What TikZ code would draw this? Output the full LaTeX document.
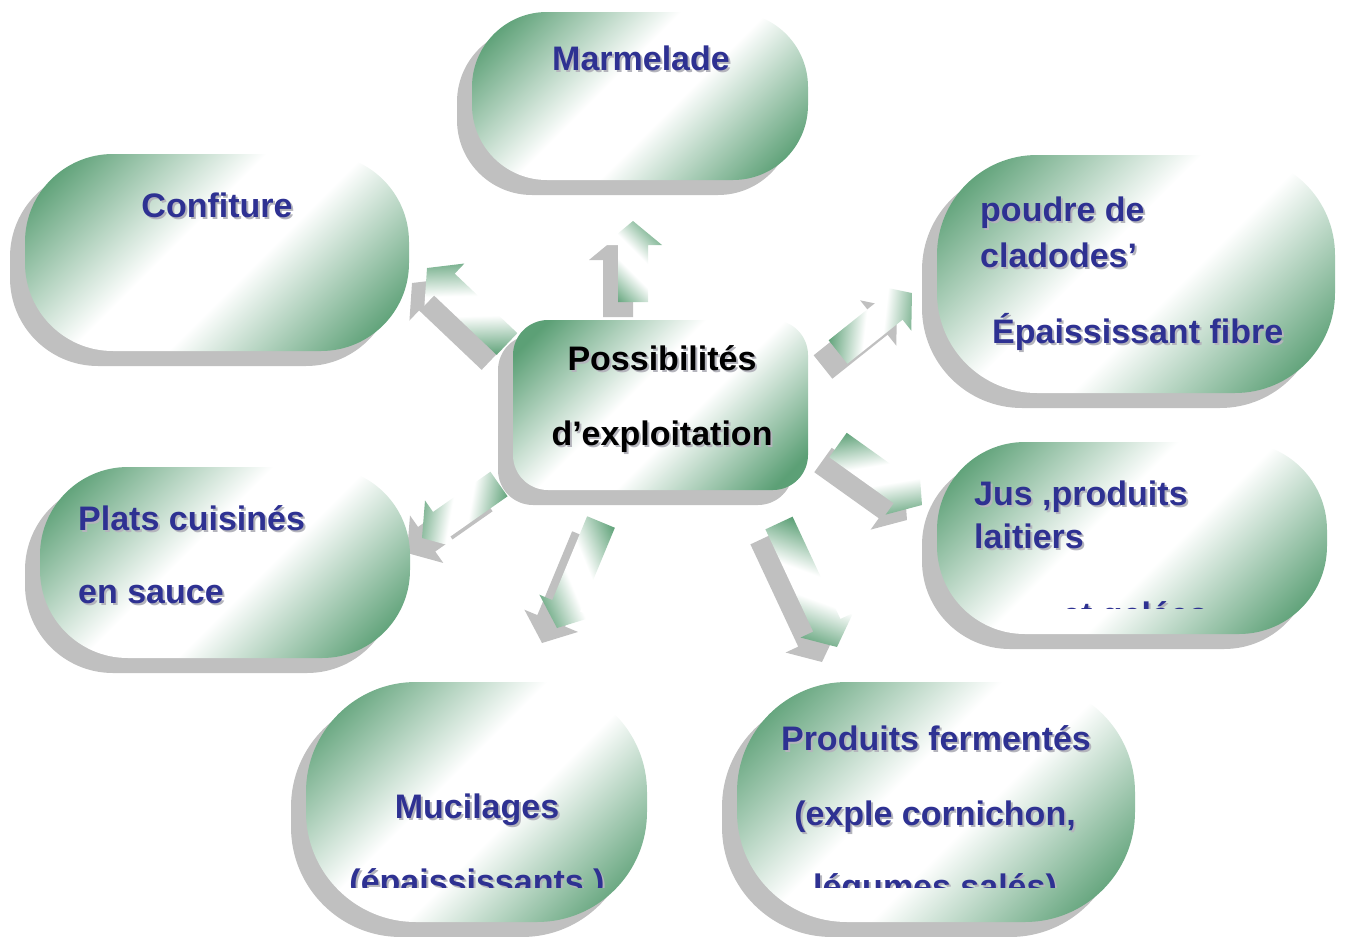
\documentclass[tikz,border=0pt]{standalone}
\usepackage{fontspec}
\setmainfont{Liberation Sans}
\usetikzlibrary{calc,shadows}

\definecolor{tilegreen}{RGB}{92,160,118}
\definecolor{txtblue}{RGB}{46,49,146}
\definecolor{shadowgrey}{RGB}{192,192,192}
\definecolor{txtshadow}{RGB}{180,180,188}

% diagonal green-white-green fill used by every tile and arrow
\pgfdeclareverticalshading{tilefade}{100bp}{color(0bp)=(tilegreen); color(20bp)=(tilegreen); color(44bp)=(white); color(56bp)=(white); color(80bp)=(tilegreen); color(100bp)=(tilegreen)}

\tikzset{
  tile/.style={shade, shading=tilefade, shading angle=45},
  tilebox/.style={tile, rectangle, draw=none, inner sep=0pt, outer sep=0pt,
    drop shadow={shadow xshift=-15pt, shadow yshift=-15pt, fill=shadowgrey, opacity=1}},
  arrowfill/.style={shade, shading=tilefade, shading angle=-45},
  arrowshadow/.style={fill=shadowgrey},
  labeltext/.style={font=\fontsize{34}{40}\selectfont\bfseries, inner sep=0pt, text=txtblue},
  centretext/.style={labeltext, text=black},
}

% block arrow in its own frame: tail at the origin, pointing up, length \len
\newcommand\arrowshape{(-15,0) -- (-15,\neck) -- (-29,\neck) -- (0,-\len) -- (29,\neck) -- (15,\neck) -- (15,0) -- cycle}

% text with a light grey shadow: name, anchor, position, style, text
\newcommand\shadowlabel[5]{%
  \node[#4, text=txtshadow, anchor=#2] (#1-sh) at ($(#3)+(2,2)$) {#5};
  \node[#4, anchor=#2] (#1) at (#3) {#5};}

\begin{document}
\begin{tikzpicture}[x=1pt,y=-1pt]
\useasboundingbox (0,0) rectangle (1345,937);

% ---- arrows radiating from the centre (tail -> tip) ----
\foreach \n/\tx/\ty/\px/\py in {up/633/302/633/221, ul/507/344/427/268,
    ur/838/352/912/293, rl/838/445/922/505, ll/499/484/422/538,
    dl/601/522/557/628, dr/779/523/837/647}{
  \coordinate (\n-t) at (\tx,\ty);
  \coordinate (\n-p) at (\px,\py);
  \pgfmathsetmacro\ang{atan2(\ty-\py,\px-\tx)-90}
  \pgfmathsetmacro\len{veclen(\px-\tx,\py-\ty)}
  \pgfmathsetmacro\neck{24-\len}
  \fill[arrowshadow, transform canvas={shift={(\tx-15,\ty+15)}, rotate=\ang}] \arrowshape;
  \shade[arrowfill, transform canvas={shift={(\tx,\ty)}, rotate=\ang}] \arrowshape;
}

% ---- tiles ----
\node[tilebox, minimum width=336pt, minimum height=168pt, rounded corners=75pt] (marmelade) at (640,96) {};
\node[tilebox, minimum width=384pt, minimum height=197pt, rounded corners=88pt] (confiture) at (217,252.5) {};
\node[tilebox, minimum width=398pt, minimum height=238pt, rounded corners=100pt] (poudre) at (1136,274) {};
\node[tilebox, minimum width=295pt, minimum height=170pt, rounded corners=35pt] (centre) at (660.5,405) {};
\node[tilebox, minimum width=370pt, minimum height=191pt, rounded corners=88pt] (plats) at (225,562.5) {};
\node[tilebox, minimum width=390pt, minimum height=192pt, rounded corners=88pt] (jus) at (1132,538) {};
\node[tilebox, minimum width=341pt, minimum height=240pt, rounded corners=110pt] (mucilages) at (476.5,802) {};
\node[tilebox, minimum width=398pt, minimum height=240pt, rounded corners=110pt] (produits) at (936,802) {};

% ---- texts ----
\shadowlabel{t-marm}{base}{641,70}{labeltext}{Marmelade}
\shadowlabel{t-conf}{base}{217,217}{labeltext}{Confiture}

\shadowlabel{t-poudre1}{base west}{980,221}{labeltext}{poudre de}
\shadowlabel{t-poudre2}{base west}{980,267}{labeltext}{cladodes’}
\shadowlabel{t-poudre3}{base west}{992,343}{labeltext}{Épaississant fibre}

\shadowlabel{t-centre1}{base}{662,370}{centretext}{Possibilités}
\shadowlabel{t-centre2}{base}{662,445}{centretext}{d’exploitation}

\shadowlabel{t-plats1}{base west}{78,530}{labeltext}{Plats cuisinés}
\shadowlabel{t-plats2}{base west}{78,603}{labeltext}{en sauce}

\shadowlabel{t-jus1}{base west}{974,505}{labeltext}{Jus ,produits}
\shadowlabel{t-jus2}{base west}{974,548}{labeltext}{laitiers}
\begin{scope}
  \clip (937,442) rectangle (1327,608);
  \shadowlabel{t-jus3}{base west}{1062,626}{labeltext}{et gelées}
\end{scope}

\shadowlabel{t-muc1}{base}{477,818}{labeltext}{Mucilages}
\begin{scope}
  \clip (306,682) rectangle (647,887);
  \shadowlabel{t-muc2}{base}{477,893}{labeltext}{(épaississants )}
\end{scope}

\shadowlabel{t-prod1}{base}{936,750}{labeltext}{Produits fermentés}
\shadowlabel{t-prod2}{base}{935,825}{labeltext}{(exple cornichon,}
\begin{scope}
  \clip (737,682) rectangle (1135,887);
  \shadowlabel{t-prod3}{base}{935,898}{labeltext}{légumes salés)}
\end{scope}
\end{tikzpicture}
\end{document}
